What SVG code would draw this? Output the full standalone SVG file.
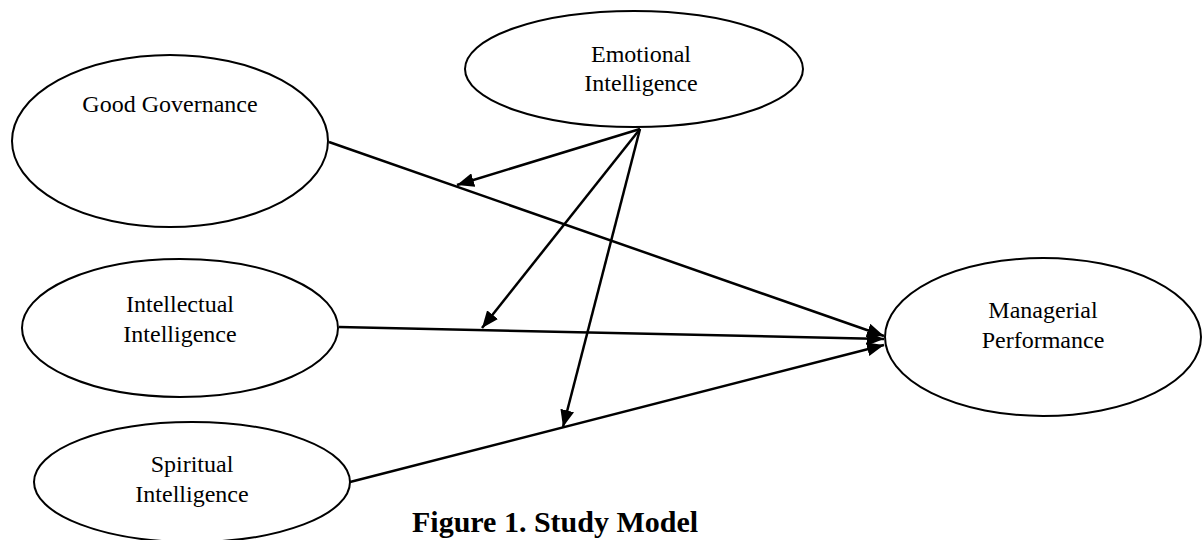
<svg xmlns="http://www.w3.org/2000/svg" width="1203" height="540" viewBox="0 0 1203 540">
<style>
.node{fill:#fff;stroke:#000;stroke-width:2}
.lbl{font-family:"Liberation Serif","Times New Roman",serif;font-size:24px;fill:#000;text-anchor:middle}
.edge{stroke:#000;stroke-width:2.5;fill:none;marker-end:url(#ah)}
.cap{font-family:"Liberation Serif","Times New Roman",serif;font-size:30px;font-weight:bold;fill:#000}
</style>
<defs>
<marker id="ah" markerUnits="userSpaceOnUse" markerWidth="18" markerHeight="14" refX="17" refY="7" orient="auto">
<path d="M0,0 L17,7 L0,14 Z" fill="#000"/>
</marker>
</defs>
<rect width="1203" height="540" fill="#fff"/>
<g id="good-governance">
<ellipse class="node" cx="170" cy="141" rx="158" ry="86"/>
<text class="lbl" x="170" y="112">Good Governance</text>
</g>
<g id="emotional-intelligence">
<ellipse class="node" cx="634" cy="69" rx="169" ry="58"/>
<text class="lbl" x="641" y="62">Emotional</text>
<text class="lbl" x="641" y="91">Intelligence</text>
</g>
<g id="intellectual-intelligence">
<ellipse class="node" cx="180" cy="328" rx="158" ry="69"/>
<text class="lbl" x="180" y="312">Intellectual</text>
<text class="lbl" x="180" y="342">Intelligence</text>
</g>
<g id="spiritual-intelligence">
<ellipse class="node" cx="192" cy="482" rx="158" ry="60"/>
<text class="lbl" x="192" y="472">Spiritual</text>
<text class="lbl" x="192" y="502">Intelligence</text>
</g>
<g id="managerial-performance">
<ellipse class="node" cx="1043" cy="337" rx="158" ry="79"/>
<text class="lbl" x="1043" y="318">Managerial</text>
<text class="lbl" x="1043" y="348">Performance</text>
</g>
<g id="connectors">
<line class="edge" x1="329" y1="142" x2="884" y2="336"/>
<line class="edge" x1="339" y1="327" x2="884" y2="339"/>
<line class="edge" x1="350" y1="482" x2="884" y2="345"/>
<line class="edge" x1="640" y1="129" x2="457" y2="185"/>
<line class="edge" x1="640" y1="129" x2="482" y2="328"/>
<line class="edge" x1="640" y1="129" x2="563" y2="427"/>
</g>
<text class="cap" x="412" y="532">Figure 1. Study Model</text>
</svg>
